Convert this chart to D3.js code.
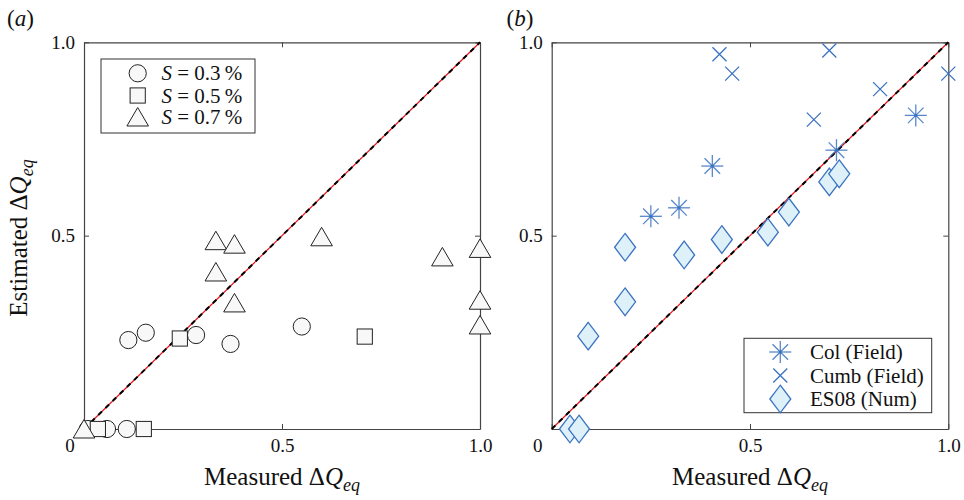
<!DOCTYPE html>
<html>
<head>
<meta charset="utf-8">
<script src="https://cdn.jsdelivr.net/npm/d3@7"></script>
<style>
  body { margin: 0; background: #fff; }
  svg text { font-family: "Liberation Serif", "Times New Roman", serif; fill: #111; }
</style>
</head>
<body>
<svg id="fig" width="964" height="500"></svg>
<script>
// panel (a): laboratory runs, grouped by slope
var circleX = [0.01, 0.058, 0.108, 0.112, 0.156, 0.283, 0.37, 0.55]
var circleY = [0, 0, 0, 0.23, 0.249, 0.243, 0.22, 0.265]
var squareX = [0.035, 0.151, 0.242, 0.709]
var squareY = [0, 0, 0.234, 0.239]
var triangleX = [0, 0.333, 0.38, 0.333, 0.38, 0.6, 0.905, 1, 1, 1]
var triangleY = [0, 0.487, 0.478, 0.406, 0.326, 0.497, 0.445, 0.467, 0.333, 0.269]
var legendA = ["0.3", "0.5", "0.7"]

// panel (b): field and numerical data
var colX = [0.25, 0.321, 0.405, 0.718, 0.918]
var colY = [0.55, 0.572, 0.68, 0.721, 0.811]
var cumbX = [0.423, 0.455, 0.661, 0.70, 0.828, 1.0]
var cumbY = [0.969, 0.919, 0.80, 0.979, 0.879, 0.919]
var es08X = [0.046, 0.069, 0.092, 0.185, 0.185, 0.334, 0.429, 0.545, 0.598, 0.70, 0.725]
var es08Y = [0, 0, 0.24, 0.329, 0.470, 0.45, 0.49, 0.509, 0.561, 0.639, 0.66]
var legendB = ["Col (Field)", "Cumb (Field)", "ES08 (Num)"]

var tickValues = [0, 0.5, 1]
var tickLabels = ["0", "0.5", "1.0"]

var svg = d3.select("#fig")
var serif = '"Liberation Serif", "Times New Roman", serif'
var frameColor = "#444"
var blue = "#3b73c1"
var lightBlue = "#def1f9"
var grayFill = "#f8f8f8"

function zip(xs, ys) {
  return xs.map(function (x, i) { return [x, ys[i]] })
}

// marker drawers, centred at 0,0
function drawCircle(g) {
  g.append("circle").attr("r", 8.6)
    .attr("fill", grayFill).attr("stroke", "#222").attr("stroke-width", 1)
}
function drawSquare(g) {
  g.append("rect").attr("x", -7.6).attr("y", -7.6).attr("width", 15.2).attr("height", 15.2)
    .attr("fill", grayFill).attr("stroke", "#222").attr("stroke-width", 1)
}
function drawTriangle(g) {
  g.append("path").attr("d", "M0,-9.5L10.8,9L-10.8,9Z")
    .attr("fill", grayFill).attr("stroke", "#222").attr("stroke-width", 1)
}
function drawDiamond(g) {
  g.append("path").attr("d", "M0,-13.8L10.5,0L0,13.8L-10.5,0Z")
    .attr("fill", lightBlue).attr("stroke", blue).attr("stroke-width", 1.3)
}
function drawAsterisk(g) {
  var r = 11
  ;[0, 45, 90, 135].forEach(function (a) {
    var rad = a * Math.PI / 180
    g.append("line")
      .attr("x1", -r * Math.cos(rad)).attr("y1", -r * Math.sin(rad))
      .attr("x2", r * Math.cos(rad)).attr("y2", r * Math.sin(rad))
      .attr("stroke", blue).attr("stroke-width", 1.3).attr("stroke-opacity", 0.85)
  })
  g.append("circle").attr("r", 1.6).attr("fill", blue)
}
function drawCross(g) {
  var r = 7
  g.append("path").attr("d", "M" + -r + "," + -r + "L" + r + "," + r + "M" + -r + "," + r + "L" + r + "," + -r)
    .attr("stroke", blue).attr("stroke-width", 1.3).attr("fill", "none")
}

function axisTitle(sel, first) {
  sel.append("tspan").text(first + " \u0394")
  sel.append("tspan").style("font-style", "italic").text("Q")
  sel.append("tspan").style("font-style", "italic").style("font-size", "18px").attr("dy", 6).text("eq")
}

function panel(left, right, top, bottom, label, labelX, series) {
  var x = d3.scaleLinear().domain([0, 1]).range([left, right])
  var y = d3.scaleLinear().domain([0, 1]).range([bottom, top])
  var g = svg.append("g")

  // axes with inward ticks on all sides
  var fmt = function (d) { return tickLabels[tickValues.indexOf(d)] }
  var xb = g.append("g").attr("transform", "translate(0," + bottom + ")")
    .call(d3.axisBottom(x).tickValues(tickValues).tickFormat(fmt).tickSizeInner(-5).tickSizeOuter(0).tickPadding(10))
  var yl = g.append("g").attr("transform", "translate(" + left + ",0)")
    .call(d3.axisLeft(y).tickValues(tickValues).tickFormat(function (d) { return d === 0 ? "" : fmt(d) })
      .tickSizeInner(-5).tickSizeOuter(0).tickPadding(9))
  var xt = g.append("g").attr("transform", "translate(0," + top + ")")
    .call(d3.axisTop(x).tickValues(tickValues).tickFormat("").tickSizeInner(-5).tickSizeOuter(0))
  var yr = g.append("g").attr("transform", "translate(" + right + ",0)")
    .call(d3.axisRight(y).tickValues(tickValues).tickFormat("").tickSizeInner(-5).tickSizeOuter(0))
  ;[xb, yl, xt, yr].forEach(function (a) {
    a.attr("font-family", serif).attr("font-size", 19)
    a.select(".domain").attr("stroke", frameColor).attr("stroke-width", 1.2)
    a.selectAll(".tick line").attr("stroke", frameColor)
    a.selectAll("text").attr("fill", "#111")
  })
  // corner "0" sits diagonally off the origin
  xb.selectAll(".tick").filter(function (d) { return d === 0 }).select("text").attr("dx", -14.5)

  // 1:1 reference line, red under black dashes
  g.append("line").attr("x1", x(0)).attr("y1", y(0)).attr("x2", x(1)).attr("y2", y(1))
    .attr("stroke", "#e8141c").attr("stroke-width", 1.2)
  g.append("line").attr("x1", x(0)).attr("y1", y(0)).attr("x2", x(1)).attr("y2", y(1))
    .attr("stroke", "#000").attr("stroke-width", 2).attr("stroke-dasharray", "5,5")

  series.forEach(function (s) {
    g.selectAll(null).data(s.points).enter().append("g")
      .attr("transform", function (d) { return "translate(" + x(d[0]) + "," + y(d[1]) + ")" })
      .each(function () { s.draw(d3.select(this)) })
  })

  // panel letter
  var pl = svg.append("text").attr("x", labelX).attr("y", 26).style("font-size", "23px")
  pl.append("tspan").text("(")
  pl.append("tspan").style("font-style", "italic").text(label)
  pl.append("tspan").text(")")

  // x title
  axisTitle(svg.append("text").attr("x", (left + right) / 2).attr("y", 485)
    .attr("text-anchor", "middle").style("font-size", "25px"), "Measured")

  return { x: x, y: y }
}

panel(84, 480, 42.3, 429, "a", 7, [
  { points: zip(circleX, circleY), draw: drawCircle },
  { points: zip(squareX, squareY), draw: drawSquare },
  { points: zip(triangleX, triangleY), draw: drawTriangle }
])
panel(551.7, 948.3, 42.3, 429, "b", 506.5, [
  { points: zip(es08X, es08Y), draw: drawDiamond },
  { points: zip(colX, colY), draw: drawAsterisk },
  { points: zip(cumbX, cumbY), draw: drawCross }
])

// y title on the left panel only
axisTitle(svg.append("text").attr("transform", "translate(27,238) rotate(-90)")
  .attr("text-anchor", "middle").style("font-size", "25px"), "Estimated")

// legend (a)
var la = svg.append("g")
la.append("rect").attr("x", 101).attr("y", 59).attr("width", 154).attr("height", 74)
  .attr("fill", "#fff").attr("stroke", "#333").attr("stroke-width", 1)
var drawsA = [drawCircle, drawSquare, drawTriangle]
var rowsA = [73.3, 95.5, 117]
legendA.forEach(function (v, i) {
  drawsA[i](la.append("g").attr("transform", "translate(137.7," + rowsA[i] + ")"))
  var t = la.append("text").attr("x", 161.5).attr("y", rowsA[i] + 7).style("font-size", "21px")
  t.append("tspan").style("font-style", "italic").text("S")
  t.append("tspan").text(" = " + v + "\u2009%")
})

// legend (b)
var lb = svg.append("g")
lb.append("rect").attr("x", 744).attr("y", 338.3).attr("width", 187.7).attr("height", 74.4)
  .attr("fill", "#fff").attr("stroke", "#333").attr("stroke-width", 1)
var drawsB = [drawAsterisk, drawCross, drawDiamond]
var rowsB = [352, 375.5, 399]
legendB.forEach(function (v, i) {
  drawsB[i](lb.append("g").attr("transform", "translate(780.3," + rowsB[i] + ")"))
  lb.append("text").attr("x", 810).attr("y", rowsB[i] + 7).style("font-size", "21px").text(v)
})
</script>
</body>
</html>
